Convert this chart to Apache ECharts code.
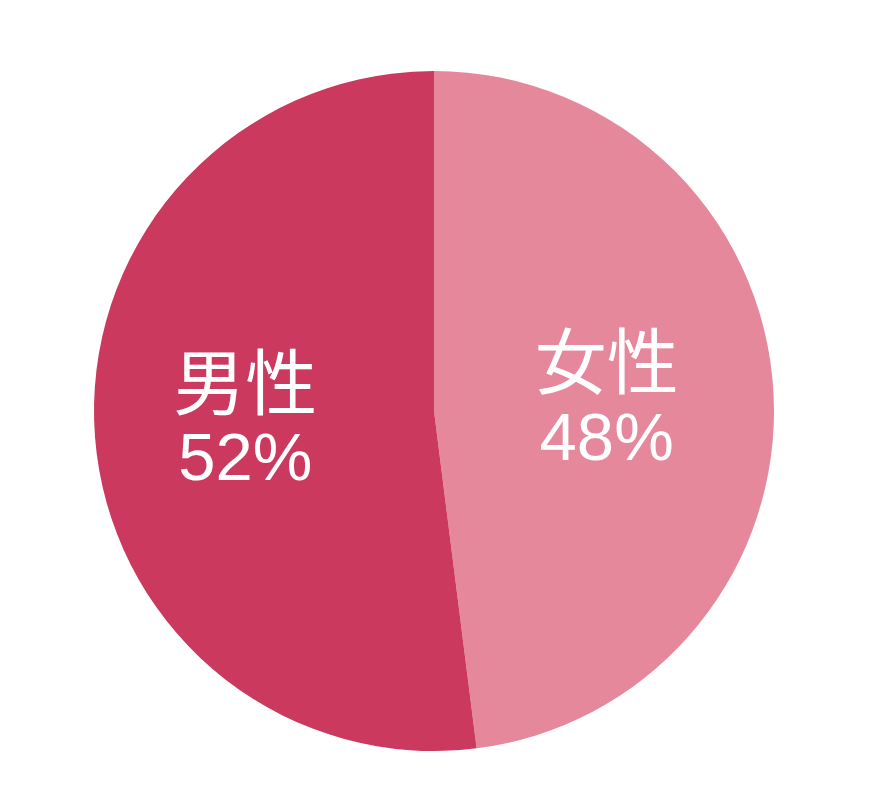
<!DOCTYPE html>
<html>
<head>
<meta charset="utf-8">
<script src="https://cdn.jsdelivr.net/npm/echarts@6/dist/echarts.min.js"></script>
<style>
html,body{margin:0;padding:0;background:#fff;}
#c{width:894px;height:792px;}
</style>
</head>
<body>
<div id="c"></div>
<script>
const categories = ['女性', '男性'];
const values = [48, 52];
const colors = ['#E5889B', '#CC395E'];
const labelOffsets = [[0, -3], [-16, -4]];

const chart = echarts.init(document.getElementById('c'));
chart.setOption({
  animation: false,
  backgroundColor: '#ffffff',
  series: [{
    type: 'pie',
    center: [434, 411],
    radius: 340,
    startAngle: 90,
    clockwise: true,
    avoidLabelOverlap: false,
    itemStyle: { borderWidth: 0 },
    label: {
      show: true,
      position: 'inside',
      color: '#ffffff',
      formatter: p => '{a|' + p.name + '}\n{b|' + p.value + '%}',
      rich: {
        a: { fontSize: 72, lineHeight: 88, color: '#ffffff', fontFamily: '"Noto Sans CJK JP", sans-serif' },
        b: { fontSize: 67, lineHeight: 72, color: '#ffffff', fontFamily: '"Liberation Sans", sans-serif' }
      }
    },
    labelLine: { show: false },
    emphasis: { disabled: true },
    data: categories.map((n, i) => ({
      name: n,
      value: values[i],
      itemStyle: { color: colors[i] },
      label: { offset: labelOffsets[i] }
    }))
  }]
});
</script>
</body>
</html>
